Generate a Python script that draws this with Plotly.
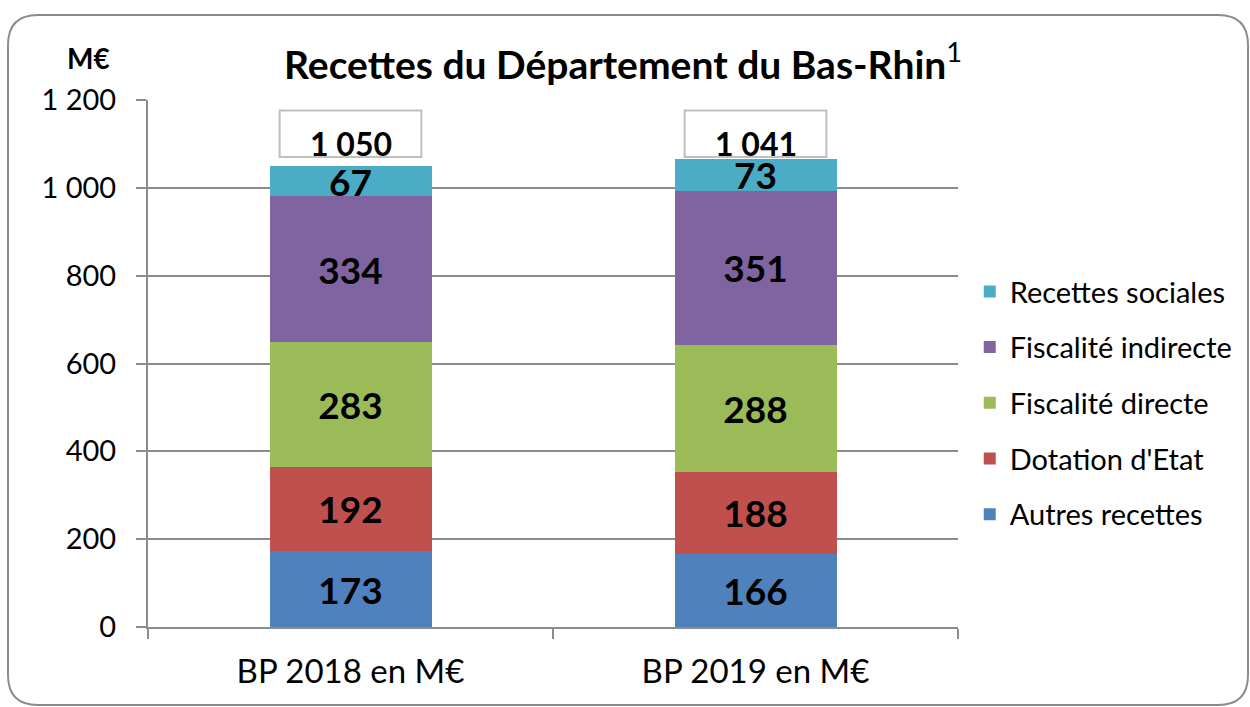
import plotly.graph_objects as go

categories = ["BP 2018 en M€", "BP 2019 en M€"]
series_names = ["Autres recettes", "Dotation d'Etat", "Fiscalité directe", "Fiscalité indirecte", "Recettes sociales"]
autres = [173, 166]
dotation = [192, 188]
fisc_directe = [283, 288]
fisc_indirecte = [334, 351]
sociales = [67, 73]
totals = [1050, 1041]
colors = ["#4F81BD", "#C0504D", "#9BBB59", "#8064A2", "#4BACC6"]

FONT = "Lato"
values = [autres, dotation, fisc_directe, fisc_indirecte, sociales]

fig = go.Figure()
n = len(series_names)
for i, (name, vals, col) in enumerate(zip(series_names, values, colors)):
    fig.add_trace(go.Bar(
        x=categories, y=vals, name=name, marker=dict(color=col, line=dict(width=0)),
        width=0.4, text=[f"<b>{v}</b>" for v in vals], texttemplate="%{text}",
        textposition="inside", insidetextanchor="middle", constraintext="none", textangle=0,
        textfont=dict(family=FONT, size=37, color="black"),
        legendgroup=name, legendrank=100 + (n - i), hoverinfo="skip",
    ))

def fmt(v):
    return f"{v:,}".replace(",", " ")

for i, t in enumerate(totals):
    fig.add_shape(type="rect", xref="x", yref="y", x0=i - 0.175, x1=i + 0.175,
                  y0=1070, y1=1176, line=dict(color="#BFBFBF", width=2), fillcolor="white", layer="above")
    fig.add_annotation(x=i, y=1101, xref="x", yref="y", text=f"<b>{fmt(t)}</b>", showarrow=False,
                       font=dict(family=FONT, size=32, color="black"))

fig.add_annotation(x=-0.073, y=1.08, xref="paper", yref="paper", xanchor="center", yanchor="middle",
                   text="<b>M€</b>", showarrow=False,
                   font=dict(family=FONT, size=28, color="black"))

# outer rounded border in paper coords
def px(xp):
    return (xp - 148) / 810
def py(yp):
    return (627 - yp) / 527
r = 30
path = (f"M {px(8)},{py(15+r)} Q {px(8)},{py(15)} {px(8+r)},{py(15)} "
        f"L {px(1248-r)},{py(15)} Q {px(1248)},{py(15)} {px(1248)},{py(15+r)} "
        f"L {px(1248)},{py(705-r)} Q {px(1248)},{py(705)} {px(1248-r)},{py(705)} "
        f"L {px(8+r)},{py(705)} Q {px(8)},{py(705)} {px(8)},{py(705-r)} Z")
fig.add_shape(type="path", xref="paper", yref="paper", path=path, line=dict(color="#8C8C8C", width=2), layer="below")

fig.update_layout(
    width=1250, height=707, barmode="stack", bargap=0.6,
    separators=", ",
    plot_bgcolor="white", paper_bgcolor="white",
    margin=dict(l=148, r=292, t=100, b=80, autoexpand=False),
    title=dict(text="<b>Recettes du Département du Bas-Rhin</b><sup>1</sup>", xref="container",
               x=0.4985, xanchor="center", y=0.908, yanchor="middle",
               font=dict(family=FONT, size=39, color="black")),
    font=dict(family=FONT, color="black"),
    legend=dict(x=1.0145, xanchor="left", y=0.425, yanchor="middle", traceorder="grouped",
                tracegroupgap=15, font=dict(family=FONT, size=29, color="black"), bgcolor="rgba(0,0,0,0)"),
    showlegend=True,
)
fig.update_yaxes(range=[0, 1200], dtick=200, tick0=0, separatethousands=True, showgrid=True,
                 gridcolor="#8C8C8C", gridwidth=2, showline=True, linecolor="#8C8C8C", linewidth=2,
                 ticks="outside", ticklen=10, tickcolor="#8C8C8C", tickwidth=2, automargin=False,
                 tickfont=dict(family=FONT, size=29, color="black"), ticklabelstandoff=14, zeroline=False)
fig.update_xaxes(showline=True, linecolor="#8C8C8C", linewidth=2, ticks="outside", tickson="boundaries",
                 ticklen=10, tickcolor="#8C8C8C", tickwidth=2, showgrid=False, automargin=False,
                 tickfont=dict(family=FONT, size=33, color="black"), ticklabelstandoff=14)

fig.write_html("out.html", config={"displayModeBar": False},
               post_script="document.body.style.margin='0';document.body.style.padding='0';")
